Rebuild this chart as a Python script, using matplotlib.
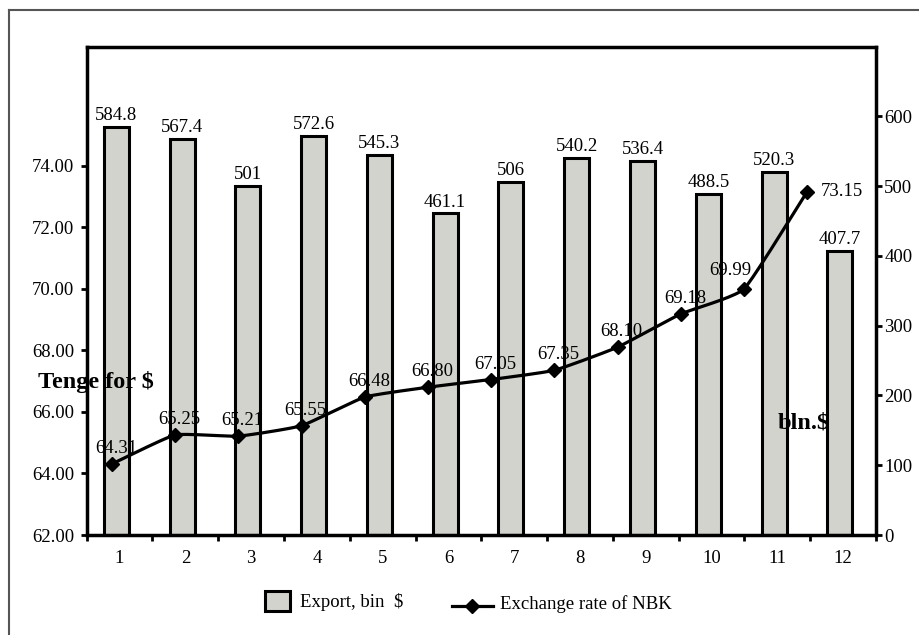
import numpy as np
import matplotlib
matplotlib.use("Agg")
import matplotlib.pyplot as plt
from matplotlib.lines import Line2D
from matplotlib.patches import Rectangle

# ---- data ----
months = ["1", "2", "3", "4", "5", "6", "7", "8", "9", "10", "11", "12"]
export_bln = [584.8, 567.4, 501, 572.6, 545.3, 461.1, 506, 540.2, 536.4, 488.5, 520.3, 407.7]
export_labels = ["584.8", "567.4", "501", "572.6", "545.3", "461.1", "506", "540.2", "536.4", "488.5", "520.3", "407.7"]
rate_nbk = [64.31, 65.25, 65.21, 65.55, 66.48, 66.80, 67.05, 67.35, 68.10, 69.18, 69.99, 73.15]
left_ticks = [62.00, 64.00, 66.00, 68.00, 70.00, 72.00, 74.00]
right_ticks = [0, 100, 200, 300, 400, 500, 600]

plt.rcParams["font.family"] = ["Liberation Serif", "DejaVu Serif"]
FS = 13.5

fig = plt.figure(figsize=(9.2, 6.35), dpi=100)
W, H = 920, 635

# outer frame (top and left edges)
fig.add_artist(Line2D([8.5 / W, 1.0], [1 - 9.5 / H, 1 - 9.5 / H], color="#555555", lw=1.5))
fig.add_artist(Line2D([8.5 / W, 8.5 / W], [1 - 9.5 / H, 0.0], color="#555555", lw=1.5))

rect = [86.7 / W, 1 - 535 / H, (876 - 86.7) / W, (535 - 46.7) / H]

# ---- bars (right axis) ----
axb = fig.add_axes(rect)
x = np.arange(1, len(months) + 1)
axb.bar(x - 0.05, export_bln, width=0.38, color="#D3D3CE", edgecolor="black", linewidth=2.2, zorder=2)
for xi, v, lab in zip(x, export_bln, export_labels):
    axb.annotate(lab, (xi - 0.05, v), xytext=(0, 2), textcoords="offset points",
                 ha="center", va="bottom", fontsize=FS, zorder=5)
axb.set_xlim(0.5, 12.5)
axb.set_ylim(0, 700)
axb.yaxis.tick_right()
axb.set_yticks(right_ticks)
axb.set_yticklabels([str(t) for t in right_ticks])
axb.tick_params(axis="y", direction="out", length=4, width=2, pad=2, labelsize=FS)
axb.set_xticks(np.arange(0.5, 13, 1.0))
axb.set_xticklabels([])
axb.set_xticks(x, minor=True)
axb.set_xticklabels(months, minor=True)
axb.tick_params(axis="x", which="major", direction="out", length=4, width=2)
axb.tick_params(axis="x", which="minor", length=0, pad=11, labelsize=FS)
for sp in axb.spines.values():
    sp.set_linewidth(2.5)
axb.patch.set_alpha(0)

# ---- exchange rate line (left axis) ----
axl = fig.add_axes(rect, frameon=False)
xl = np.arange(1, len(rate_nbk) + 1)
axl.set_xlim(0.6, 13.09)
axl.set_ylim(62, 77.86)

# gently smoothed path through the monthly rates (cardinal spline)
px = np.array(xl, dtype=float)
py = np.array(rate_nbk, dtype=float)
P = np.column_stack([px, py])
P = np.vstack([P[0] * 2 - P[1], P, P[-1] * 2 - P[-2]])
tension = 0.2
curve = []
for i in range(1, len(P) - 2):
    p0, p1, p2, p3 = P[i - 1], P[i], P[i + 1], P[i + 2]
    m1 = tension * (p2 - p0)
    m2 = tension * (p3 - p1)
    for t in np.linspace(0, 1, 20, endpoint=False):
        h00 = 2 * t**3 - 3 * t**2 + 1
        h10 = t**3 - 2 * t**2 + t
        h01 = -2 * t**3 + 3 * t**2
        h11 = t**3 - t**2
        curve.append(h00 * p1 + h10 * m1 + h01 * p2 + h11 * m2)
curve.append(P[-2])
curve = np.array(curve)
axl.plot(curve[:, 0], curve[:, 1], color="black", lw=2.3, zorder=3)
axl.plot(px, py, linestyle="none", marker="D", markersize=7.5, color="black", zorder=4)

for i, (xi, v) in enumerate(zip(px, py)):
    if i == len(py) - 1:
        axl.annotate(f"{v:.2f}", (xi, v), xytext=(10, 0), textcoords="offset points",
                     ha="left", va="center", fontsize=FS)
    elif i == len(py) - 2:
        axl.annotate(f"{v:.2f}", (xi, v), xytext=(-10, 7), textcoords="offset points",
                     ha="center", va="bottom", fontsize=FS)
    else:
        axl.annotate(f"{v:.2f}", (xi, v), xytext=(3, 5), textcoords="offset points",
                     ha="center", va="bottom", fontsize=FS)

axl.set_xticks([])
axl.set_yticks(left_ticks)
axl.set_yticklabels([f"{t:.2f}" for t in left_ticks])
axl.tick_params(axis="y", direction="out", length=4, width=2, pad=5, labelsize=FS)

# axis titles
fig.text(38 / W, 1 - 382 / H, "Tenge for $", fontsize=17.5, fontweight="bold", ha="left", va="center")
fig.text(778 / W, 1 - 423 / H, "bln.$", fontsize=17.5, fontweight="bold", ha="left", va="center")

# legend
fig.add_artist(Rectangle((265 / W, 1 - 611 / H), 25 / W, 20 / H, facecolor="#D3D3CE",
                         edgecolor="black", lw=2.2))
fig.text(300 / W, 1 - 602 / H, "Export, bin  $", fontsize=FS, ha="left", va="center")
fig.add_artist(Line2D([452 / W, 493 / W], [1 - 605.5 / H, 1 - 605.5 / H], color="black", lw=2.3))
fig.add_artist(Line2D([472 / W], [1 - 605.5 / H], marker="D", markersize=7.5, color="black"))
fig.text(500 / W, 1 - 604 / H, "Exchange rate of NBK", fontsize=FS, ha="left", va="center")

fig.savefig("out.png", dpi=100)
